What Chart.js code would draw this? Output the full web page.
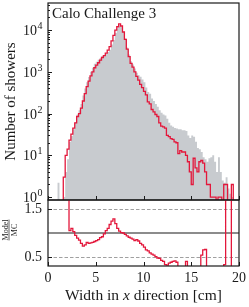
<!DOCTYPE html>
<html>
<head>
<meta charset="utf-8">
<script src="https://cdn.jsdelivr.net/npm/chart.js@4.4.0/dist/chart.umd.min.js"></script>
<style>
    html, body { margin: 0; padding: 0; background: #fff; }
    #wrap { position: relative; width: 249px; height: 307px; overflow: hidden; }
    canvas { position: absolute; left: 0; }
    #main { top: 0; }
    #ratio { top: 197px; }
</style>
</head>
<body>
<div id="wrap">
    <canvas id="main" width="249" height="204"></canvas>
    <canvas id="ratio" width="249" height="110"></canvas>
</div>
<script>
// --- datos (bins de 0.2 cm) ---
const BIN_W = 0.2;
const binStart = [0.8, 1.0, 1.2, 1.4, 1.6, 1.8, 2.0, 2.2, 2.4, 2.6, 2.8, 3.0, 3.2, 3.4, 3.6, 3.8,
    4.0, 4.2, 4.4, 4.6, 4.8, 5.0, 5.2, 5.4, 5.6, 5.8, 6.0, 6.2, 6.4, 6.6, 6.8, 7.0, 7.2, 7.4, 7.6, 7.8,
    8.0, 8.2, 8.4, 8.6, 8.8, 9.0, 9.2, 9.4, 9.6, 9.8, 10.0, 10.2, 10.4, 10.6, 10.8, 11.0, 11.2, 11.4, 11.6, 11.8,
    12.0, 12.2, 12.4, 12.6, 12.8, 13.0, 13.2, 13.4, 13.6, 13.8, 14.0, 14.2, 14.4, 14.6, 14.8, 15.0, 15.2, 15.4, 15.6, 15.8,
    16.0, 16.2, 16.4, 16.6, 16.8, 17.0, 17.2, 17.4, 17.6, 17.8, 18.0, 18.2, 18.4, 18.6, 18.8, 19.0, 19.2, 19.4, 19.6];

// MC (gris relleno)
const mcCounts = [1.7, 0, 2.2, 0, 0, 1, 4, 8, 21, 29, 42, 62, 95, 120, 170, 270,
    400, 560, 750, 1000, 1250, 1550, 1750, 1950, 2150, 2400, 2500, 2700, 3000, 3400, 4500, 5800, 8500, 11000, 13000, 12000,
    9000, 6300, 3800, 2600, 1800, 1500, 1200, 950, 830, 760, 650, 560, 420, 330, 300, 230, 200, 170, 145, 120,
    105, 95, 90, 75, 60, 52, 48, 45, 44, 42, 42, 40, 40, 38, 30, 26, 30, 28, 21, 15,
    14, 12, 9, 8, 7, 8.5, 9, 10, 7, 4, 9, 4, 2.5, 2.2, 3, 1.6, 1.2, 1, 0];

// Modelo (línea roja)
const modelCounts = [null, null, null, null, 0, 3, 10, 14, 23, 32, 45, 60, 85, 100, 135, 200,
    300, 440, 600, 800, 1000, 1250, 1450, 1650, 1900, 2200, 2450, 2800, 3300, 4000, 5500, 7500, 10000, 12000, 14000, 12500,
    9000, 6000, 3500, 2300, 1600, 1300, 1000, 780, 630, 500, 420, 340, 280, 190, 170, 125, 110, 95, 85, 60,
    50, 48, 45, 30, 28, 25, 24, 21, 20, 11, 13, 12, 12, 10, 7, 4, 2, 8.5, 5, 4,
    7, 7.5, 6.5, 4, 2, 2, 1, 1, 1, 0, 1, 1, 0, 2, 2, 0, 0, 2, 0];

// Cociente Modelo/MC (panel inferior)
const ratioValues = [null, null, null, null, null, 3, 2.5, 2.0, 1.05, 1.1, 1.03, 0.95, 0.89, 0.85, 0.78, 0.72,
    0.75, 0.8, 0.78, 0.79, 0.8, 0.82, 0.84, 0.86, 0.9, 0.92, 0.98, 1.05, 1.1, 1.18, 1.25, 1.3, 1.2, 1.1, 1.04, 1.01,
    1.0, 0.97, 0.94, 0.91, 0.89, 0.87, 0.84, 0.86, 0.83, 0.78, 0.75, 0.7, 0.64, 0.62, 0.58, 0.55, 0.53, 0.5, 0.47, 0.46,
    0.42, 0.4, 0.33, 0.32, 0.36, 0.38, 0.4, 0.41, 0.38, 0.2, 0.2, 0.2, 0.2, 0.4, 0.2, 0.2, 0.2, 0.2, 0.2, 0.2,
    0.2, 0.53, 0.64, 0.65, 0.2, 0.2, 0.2, 0.2, 0.2, 0.2, 0.2, 0.2, 0.2, 0.33, 2, 2, 2, 0.2, null];

const xTicks = [0, 5, 10, 15, 20];
const xTickLabels = ['0', '5', '10', '15', '20'];
const yDecades = [1, 10, 100, 1000, 10000];
const yExponents = ['0', '1', '2', '3', '4'];
const ratioTicks = [0.5, 1.5];
const ratioTickLabels = ['0.5', '1.5'];

const GRAY = '#c8cbcf';
const RED = '#e3173b';
const INK = '#1a1a1a';
const SERIF = '"Liberation Serif", "DejaVu Serif", serif';
const LOG_FLOOR = 0.1; // los ceros caen bajo el eje log

function stepPoints(vals, floor) {
    const pts = binStart.map((b, i) => {
        let v = vals[i];
        if (v !== null && floor && v === 0) v = floor;
        return { x: b, y: v };
    });
    const last = vals.length - 1;
    pts.push({ x: binStart[last] + BIN_W, y: pts[last].y });
    return pts;
}

function drawFrame(ctx, a) {
    ctx.save();
    ctx.strokeStyle = INK;
    ctx.lineWidth = 1.2;
    ctx.strokeRect(a.left, a.top, a.right - a.left, a.bottom - a.top);
    ctx.restore();
}

function drawXTicks(ctx, chart, yEdge) {
    const xs = chart.scales.x;
    ctx.save();
    ctx.strokeStyle = INK;
    ctx.lineWidth = 1;
    xTicks.forEach(v => {
        const x = Math.round(xs.getPixelForValue(v)) + 0.5;
        ctx.beginPath();
        ctx.moveTo(x, yEdge);
        ctx.lineTo(x, yEdge - 4);
        ctx.stroke();
    });
    ctx.restore();
}

// --- decoración panel principal ---
const mainDeco = {
    id: 'mainDeco',
    afterDraw(chart) {
        const ctx = chart.ctx;
        const a = chart.chartArea;
        const ys = chart.scales.y;
        drawFrame(ctx, a);
        drawXTicks(ctx, chart, a.bottom);

        ctx.save();
        ctx.strokeStyle = INK;
        ctx.lineWidth = 1;
        // ticks mayores y menores hacia adentro
        yDecades.forEach(d => {
            for (let m = 1; m <= 9; m++) {
                const v = d * m;
                const y = Math.round(ys.getPixelForValue(v)) + 0.5;
                if (y < a.top || y > a.bottom) continue;
                ctx.beginPath();
                ctx.moveTo(a.left, y);
                ctx.lineTo(a.left + (m === 1 ? 4 : 2), y);
                ctx.stroke();
            }
        });

        // etiquetas 10^n
        ctx.fillStyle = INK;
        ctx.textBaseline = 'alphabetic';
        yDecades.forEach((d, i) => {
            const y = ys.getPixelForValue(d);
            ctx.font = '14px ' + SERIF;
            const wb = ctx.measureText('10').width;
            ctx.font = '10px ' + SERIF;
            const we = ctx.measureText(yExponents[i]).width;
            const x0 = 42 - wb - we;
            ctx.font = '14px ' + SERIF;
            ctx.fillText('10', x0, y + 5);
            ctx.font = '10px ' + SERIF;
            ctx.fillText(yExponents[i], x0 + wb + 0.5, y - 1);
        });

        // título
        ctx.font = '15px ' + SERIF;
        ctx.textAlign = 'left';
        ctx.fillText('Calo Challenge 3', a.left + 4, 18);

        // título eje y
        ctx.translate(11, (a.top + a.bottom) / 2);
        ctx.rotate(-Math.PI / 2);
        ctx.textAlign = 'center';
        ctx.textBaseline = 'middle';
        ctx.fillText('Number of showers', 0, 0);
        ctx.restore();
    }
};

// --- decoración panel del cociente ---
const ratioDeco = {
    id: 'ratioDeco',
    beforeDatasetsDraw(chart) {
        const ctx = chart.ctx;
        const a = chart.chartArea;
        const ys = chart.scales.y;
        ctx.save();
        ctx.lineWidth = 1;
        ctx.strokeStyle = '#a0a0a0';
        ctx.setLineDash([3.5, 2]);
        ratioTicks.forEach(v => {
            const y = Math.round(ys.getPixelForValue(v)) + 0.5;
            ctx.beginPath();
            ctx.moveTo(a.left, y);
            ctx.lineTo(a.right, y);
            ctx.stroke();
        });
        ctx.setLineDash([]);
        ctx.strokeStyle = INK;
        ctx.lineWidth = 1.2;
        const y1 = ys.getPixelForValue(1.0);
        ctx.beginPath();
        ctx.moveTo(a.left, y1);
        ctx.lineTo(a.right, y1);
        ctx.stroke();
        ctx.restore();
    },
    afterDraw(chart) {
        const ctx = chart.ctx;
        const a = chart.chartArea;
        const xs = chart.scales.x;
        const ys = chart.scales.y;
        drawFrame(ctx, a);
        drawXTicks(ctx, chart, a.bottom);

        ctx.save();
        ctx.strokeStyle = INK;
        ctx.fillStyle = INK;
        ctx.lineWidth = 1;
        ratioTicks.forEach((v, i) => {
            const y = Math.round(ys.getPixelForValue(v)) + 0.5;
            ctx.beginPath();
            ctx.moveTo(a.left, y);
            ctx.lineTo(a.left + 4, y);
            ctx.stroke();
            ctx.font = '14px ' + SERIF;
            ctx.textAlign = 'right';
            ctx.textBaseline = 'middle';
            ctx.fillText(ratioTickLabels[i], 42, y);
        });

        // etiquetas eje x
        ctx.textAlign = 'center';
        ctx.textBaseline = 'alphabetic';
        ctx.font = '14px ' + SERIF;
        xTicks.forEach((v, i) => {
            ctx.fillText(xTickLabels[i], xs.getPixelForValue(v), a.bottom + 16);
        });

        // título eje x con x en cursiva
        const parts = [['Width in ', ''], ['x', 'italic '], [' direction [cm]', '']];
        let total = 0;
        parts.forEach(p => { ctx.font = p[1] + '15.5px ' + SERIF; total += ctx.measureText(p[0]).width; });
        let x = (a.left + a.right) / 2 - total / 2;
        ctx.textAlign = 'left';
        parts.forEach(p => {
            ctx.font = p[1] + '15.5px ' + SERIF;
            ctx.fillText(p[0], x, a.bottom + 34);
            x += ctx.measureText(p[0]).width;
        });

        // fracción Model / MC
        ctx.translate(9, (a.top + a.bottom) / 2 - 3);
        ctx.rotate(-Math.PI / 2);
        ctx.font = '8px ' + SERIF;
        const wNum = ctx.measureText('Model').width;
        ctx.textAlign = 'center';
        ctx.textBaseline = 'alphabetic';
        ctx.fillText('Model', 0, -1.5);
        ctx.textBaseline = 'top';
        ctx.fillText('MC', 0, 1.5);
        ctx.lineWidth = 0.7;
        ctx.beginPath();
        ctx.moveTo(-wNum / 2, 0);
        ctx.lineTo(wNum / 2, 0);
        ctx.stroke();
        ctx.restore();
    }
};

const baseOpts = {
    responsive: false,
    animation: false,
    events: [],
    plugins: { legend: { display: false }, tooltip: { enabled: false } }
};

new Chart(document.getElementById('main'), {
    type: 'line',
    data: {
        datasets: [
            {
                label: 'Model',
                data: stepPoints(modelCounts, LOG_FLOOR),
                stepped: 'after',
                fill: false,
                borderColor: RED,
                borderWidth: 1.3,
                pointRadius: 0,
                order: 0
            },
            {
                label: 'MC',
                data: stepPoints(mcCounts, LOG_FLOOR),
                stepped: 'after',
                fill: 'start',
                backgroundColor: GRAY,
                borderWidth: 0,
                pointRadius: 0,
                order: 1
            }
        ]
    },
    options: {
        ...baseOpts,
        layout: { padding: { left: 0, right: 10, top: 3, bottom: 4 } },
        scales: {
            x: { type: 'linear', min: 0, max: 20, display: false },
            y: {
                type: 'logarithmic', min: 0.85, max: 44500,
                grid: { display: false }, border: { display: false },
                ticks: { display: false },
                afterFit(s) { s.width = 48; }
            }
        }
    },
    plugins: [mainDeco]
});

new Chart(document.getElementById('ratio'), {
    type: 'line',
    data: {
        datasets: [{
            label: 'Model/MC',
            data: stepPoints(ratioValues, null),
            stepped: 'after',
            fill: false,
            borderColor: RED,
            borderWidth: 1.3,
            pointRadius: 0
        }]
    },
    options: {
        ...baseOpts,
        layout: { padding: { left: 0, right: 10, top: 3, bottom: 0 } },
        scales: {
            x: {
                type: 'linear', min: 0, max: 20,
                grid: { display: false }, border: { display: false },
                ticks: { display: false },
                afterFit(s) { s.height = 41; }
            },
            y: {
                type: 'linear', min: 0.3, max: 1.7,
                grid: { display: false }, border: { display: false },
                ticks: { display: false },
                afterFit(s) { s.width = 48; }
            }
        }
    },
    plugins: [ratioDeco]
});
</script>
</body>
</html>
